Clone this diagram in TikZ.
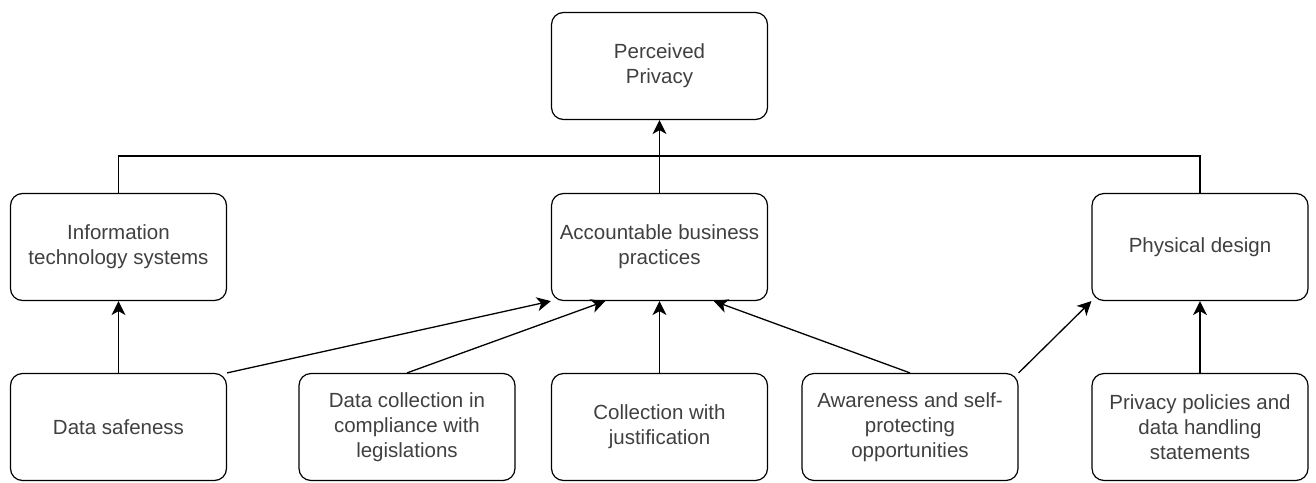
\documentclass[tikz,border=0pt]{standalone}
\usepackage{fontspec}
\setmainfont{Liberation Sans}
\usetikzlibrary{arrows.meta,calc}

\begin{document}
\begin{tikzpicture}[x=1pt,y=-1pt,
  box/.style={draw,line width=1.2pt,rounded corners=12pt,minimum width=216pt,minimum height=107pt,align=center,text=black!75,font=\fontsize{20.5}{25}\selectfont},
  link/.style={line width=1.3pt,-{Stealth[length=14pt,width=14pt,inset=4pt]}}]
\useasboundingbox (0,0) rectangle (1316,482);
\node[box] (perc) at (659.5,66) {Perceived\\Privacy};
\node[box] (its) at (118.5,247) {Information\\technology systems};
\node[box] (abp) at (659.5,247) {Accountable business\\practices};
\node[box] (phys) at (1200,247) {Physical design};
\node[box] (safe) at (118.5,427) {Data safeness};
\node[box] (legal) at (407,427) {Data collection in\\compliance with\\legislations};
\node[box] (just) at (659.5,427) {Collection with\\justification};
\node[box] (aware) at (910,427) {Awareness and self-\\protecting\\opportunities};
\node[box] (pol) at (1200,427) {Privacy policies and\\data handling\\statements};
% upper level
\coordinate (bus) at (659.5,156);
\draw[line width=1.3pt] (its.north) |- (bus) -| (phys.north);
\draw[link] (abp.north) -- (perc.south);
% lower level
\draw[link] (safe.north) -- (its.south);
\draw[link] (safe.north east) -- (abp.south west);
\draw[link] (legal.north) -- ($(abp.south west)!0.25!(abp.south east)$);
\draw[link] (just.north) -- (abp.south);
\draw[link] (aware.north) -- ($(abp.south west)!0.75!(abp.south east)$);
\draw[link] (aware.north east) -- (phys.south west);
\draw[link] (pol.north) -- (phys.south);
\end{tikzpicture}
\end{document}
